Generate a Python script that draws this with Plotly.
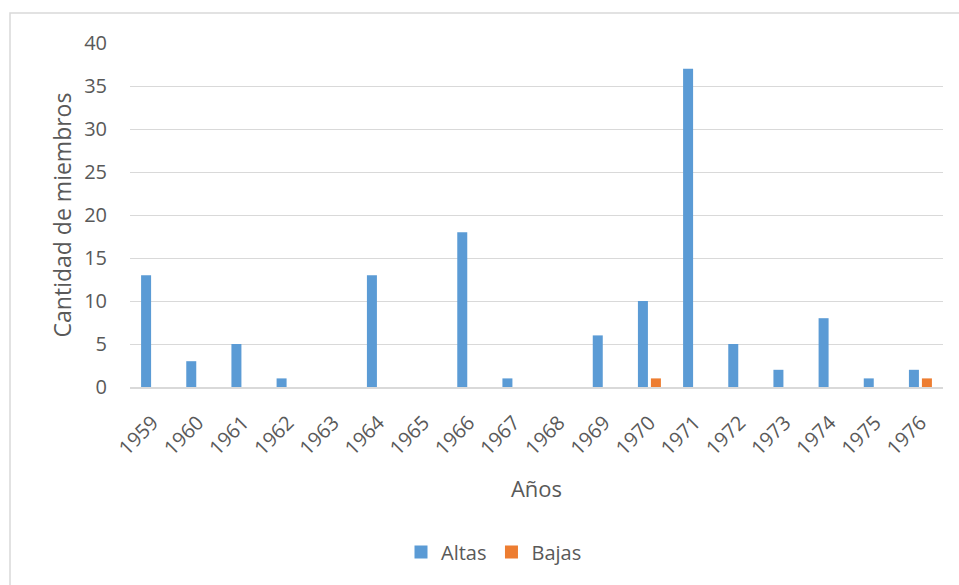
import plotly.graph_objects as go

years = ["1959", "1960", "1961", "1962", "1963", "1964", "1965", "1966", "1967",
         "1968", "1969", "1970", "1971", "1972", "1973", "1974", "1975", "1976"]
altas = [13, 3, 5, 1, 0, 13, 0, 18, 1, 0, 6, 10, 37, 5, 2, 8, 1, 2]
bajas = [0, 0, 0, 0, 0, 0, 0, 0, 0, 0, 0, 1, 0, 0, 0, 0, 0, 1]
series_names = ["Altas", "Bajas"]
series_colors = ["#5B9BD5", "#ED7D31"]

FONT = "Open Sans"
TXT = "#595959"

fig = go.Figure()
for name, vals, col in zip(series_names, [altas, bajas], series_colors):
    fig.add_trace(go.Bar(x=years, y=vals, name=name, marker_color=col,
                         marker_line_width=0, showlegend=False))
# legend entries with square swatches
for name, col in zip(series_names, series_colors):
    fig.add_trace(go.Scatter(x=[None], y=[None], mode="markers", name=name,
                             marker=dict(symbol="square", size=13, color=col)))

W, H = 959, 585
L, R, T, B = 130, 16, 43, 198
pw, ph = W - L - R, H - T - B

def px_x(x):
    return (x - L) / pw

def px_y(y):
    return (H - B - y) / ph

fig.update_layout(
    width=W, height=H,
    margin=dict(l=L, r=R, t=T, b=B),
    paper_bgcolor="white", plot_bgcolor="white",
    barmode="group", bargap=0.425, bargroupgap=0.23,
    font=dict(family=FONT, color=TXT, size=20),
    showlegend=True,
    legend=dict(orientation="h", x=px_x(494), y=px_y(552), xanchor="center",
                yanchor="middle", font=dict(size=20, color=TXT),
                itemwidth=30, tracegroupgap=0, itemsizing="trace"),
    xaxis=dict(
        type="category", tickangle=-45, showgrid=False, showline=True,
        linecolor="#D9D9D9", linewidth=2, ticks="", tickfont=dict(size=20, color=TXT),
        ticklabelstandoff=14,
        title=dict(text="Años", font=dict(size=22, color=TXT), standoff=22),
        automargin=False,
    ),
    yaxis=dict(
        range=[0, 40], dtick=5, showgrid=True, gridcolor="#D9D9D9", gridwidth=1,
        zeroline=False, showline=False, ticks="", tickfont=dict(size=20, color=TXT),
        ticklabelstandoff=22,
        title=dict(text="Cantidad de miembros", font=dict(size=23, color=TXT), standoff=6),
        automargin=False,
    ),
    shapes=[dict(type="rect", xref="paper", yref="paper",
                 x0=px_x(10), x1=px_x(975), y0=px_y(600), y1=px_y(13),
                 line=dict(color="#D9D9D9", width=1.5), fillcolor="rgba(0,0,0,0)",
                 layer="below")],
)

fig.write_html("out.html", config={"displayModeBar": False},
               post_script="document.body.style.margin='0';document.body.style.overflow='hidden';")
